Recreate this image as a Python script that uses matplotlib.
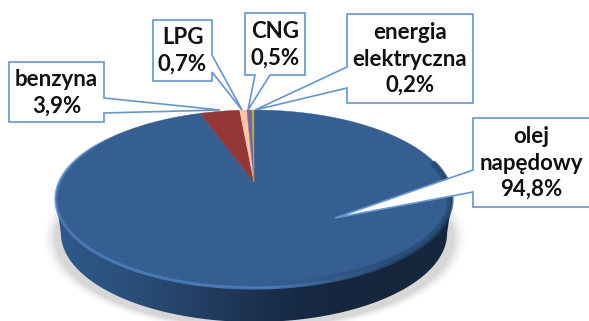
import numpy as np
import matplotlib
matplotlib.use("Agg")
import matplotlib.pyplot as plt
from matplotlib.collections import LineCollection
from matplotlib.colors import LinearSegmentedColormap, to_rgb
from matplotlib.patches import Polygon

plt.rcParams['font.family'] = ['Lato', 'DejaVu Sans']

# fuel shares, clockwise from 12 o'clock
fuels = ["olej napędowy", "benzyna", "LPG", "CNG", "energia elektryczna"]
shares = [94.8, 3.9, 0.7, 0.5, 0.2]
share_labels = ["94,8%", "3,9%", "0,7%", "0,5%", "0,2%"]
slice_colors = ["#365F91", "#953735", "#FAC8A3", "#7F63A1", "#A8B23C"]

W, H = 589, 321
HUB = (254.0, 182.0)
SCALE_X, SCALE_Y, PERSP = 194.4, 85.75, 0.191
DEPTH = 34.0
EDGE = "#6496D2"


def project(theta):
    # perspective view of the unit circle, theta clockwise from the back
    u, v = np.sin(theta), np.cos(theta)
    d = 1 + PERSP * v
    return HUB[0] + SCALE_X * u / d, HUB[1] - SCALE_Y * v / d


def draw_body(ax):
    # soft shadow under the disc
    yy, xx = np.mgrid[0:H, 0:W]
    dist = np.hypot((xx - 254) / 207, (yy - 238) / 92)
    rgba = np.zeros((H, W, 4))
    rgba[..., 3] = np.clip((1.04 - dist) / 0.08, 0, 1) ** 2 * 0.16
    ax.imshow(rgba, extent=(0, W, H, 0), zorder=1, aspect="auto")

    # side wall with left-to-right shading
    start = np.pi - np.arccos(PERSP)
    theta = np.linspace(start, 2 * np.pi - start, 300)
    x, y = project(theta)
    sx = 254 + (x - 254) * 0.975
    outline = np.r_[[(x[0], y[0])], np.c_[sx, y + DEPTH], [(x[-1], y[-1])]]
    hull = Polygon(outline, closed=True, fc="none", ec="none")
    ax.add_patch(hull)
    cmap = LinearSegmentedColormap.from_list(
        "wall", ["#30598A", "#2A4E78", "#213B5E", "#172A45", "#15263D", "#15263D"])
    grad = np.linspace(0, 1, 400).reshape(1, -1)
    img = ax.imshow(grad, extent=(56, 452, H + 5, 100), cmap=cmap, aspect="auto", zorder=2)
    img.set_clip_path(hull)


def draw_slices(ax):
    edges = np.cumsum([0] + shares) / sum(shares) * 2 * np.pi
    for start, stop, color in zip(edges[:-1], edges[1:], slice_colors):
        theta = np.linspace(start, stop, max(int((stop - start) * 100), 2))
        x, y = project(theta)
        pts = np.r_[[HUB], np.c_[x, y]]
        ax.add_patch(Polygon(pts, closed=True, fc=color, ec=color, lw=0.3, zorder=3))


def draw_bevel(ax):
    # rim of the disc: bright on the left and front, dark towards the right
    theta = np.linspace(np.pi * 0.42, np.pi * 1.72, 500)
    x, y = project(theta)
    pts = np.c_[x, y]
    segs = np.stack([pts[:-1], pts[1:]], axis=1)
    mid = (x[:-1] + x[1:]) / 2
    bright = np.clip((400 - mid) / 130, 0, 1)
    fade = np.clip((theta[:-1] - np.pi * 1.5) / (np.pi * 0.22), 0, 1)
    bright_col = np.array(to_rgb("#4E82BE"))
    dark_col = np.array(to_rgb("#203F63"))
    colors = np.outer(bright, bright_col) + np.outer(1 - bright, dark_col)
    inner = np.c_[colors, 0.9 * (1 - fade)]
    ax.add_collection(LineCollection(segs, colors=inner, linewidths=2.2, zorder=4))
    # darker lip just above the bright rim on the right-hand side
    inset = pts + np.c_[(254 - x) * 0.012, (199 - y) * 0.05]
    segs2 = np.stack([inset[:-1], inset[1:]], axis=1)
    lip = np.c_[np.outer(np.ones_like(mid), dark_col), 0.55 * (1 - bright) * (1 - fade)]
    ax.add_collection(LineCollection(segs2, colors=lip, linewidths=3.0, zorder=3.5))


def callout(ax, box, side, tail, tip, lines, fontsize=16):
    # label box with a wedge tail pointing at the slice
    x0, y0, x1, y1 = box
    p, q = tail
    if side == "left":
        pts = [(x0, y0), (x1, y0), (x1, y1), (x0, y1), (x0, q), tip, (x0, p)]
    elif side == "right":
        pts = [(x0, y0), (x1, y0), (x1, p), tip, (x1, q), (x1, y1), (x0, y1)]
    else:
        pts = [(x0, y0), (x1, y0), (x1, y1), (q, y1), tip, (p, y1), (x0, y1)]
    ax.add_patch(Polygon(pts, closed=True, fc="white", ec=EDGE, lw=1.2, zorder=6))
    ax.text((x0 + x1) / 2, (y0 + y1) / 2 + 0.5, "\n".join(lines), ha="center", va="center",
            fontsize=fontsize, fontweight="bold", color="#111111", linespacing=1.32,
            zorder=7)


fig = plt.figure(figsize=(W / 100, H / 100), dpi=100)
ax = fig.add_axes([0, 0, 1, 1])
ax.set_xlim(0, W)
ax.set_ylim(H, 0)
ax.axis("off")

draw_body(ax)
draw_slices(ax)
draw_bevel(ax)

callout(ax, (9, 62, 104, 122), "right", (98, 113), (220, 110),
        [fuels[1], share_labels[1]])
callout(ax, (153, 20, 212, 81), "right", (55, 72), (242, 110),
        [fuels[2], share_labels[2]])
callout(ax, (245, 13, 305, 75), "bottom", (255, 270), (248, 110),
        [fuels[3], share_labels[3]])
callout(ax, (347, 14, 473, 103), "left", (67, 88), (255, 110),
        ["energia", "elektryczna", share_labels[4]])
callout(ax, (473, 118, 590, 207), "left", (170, 192), (335, 218),
        ["olej", "napędowy", share_labels[0]])

fig.savefig("out.png", dpi=100)
